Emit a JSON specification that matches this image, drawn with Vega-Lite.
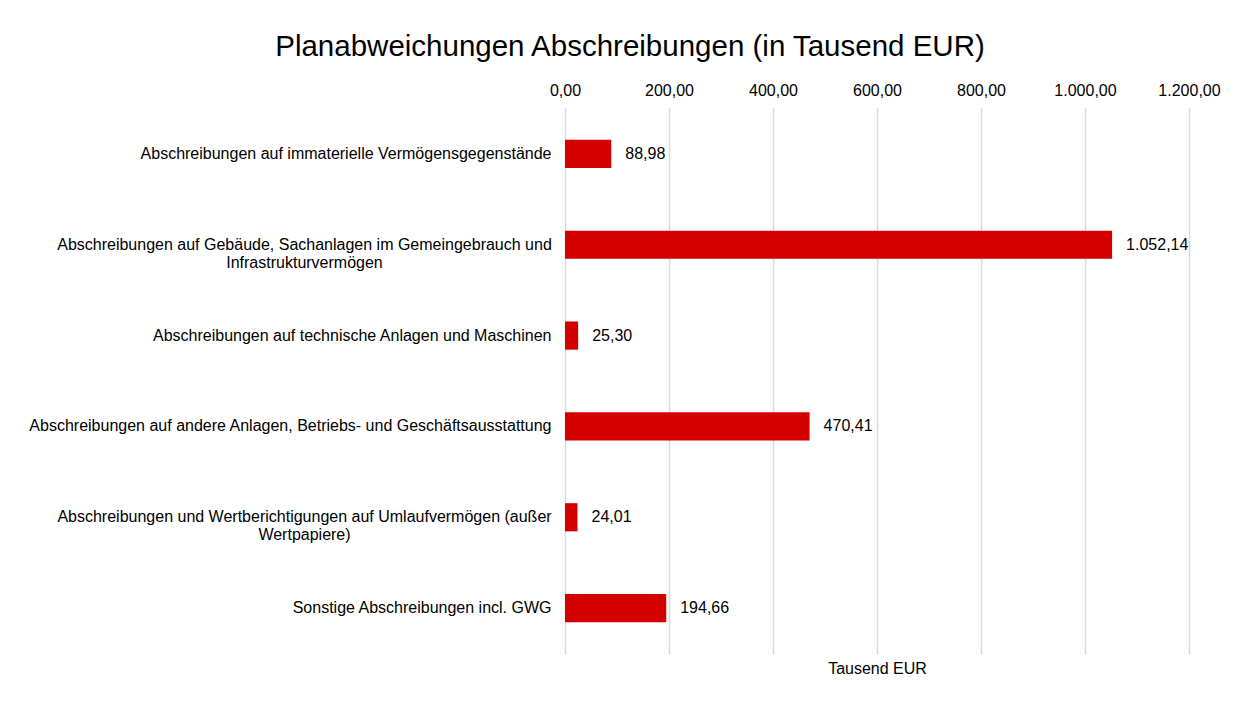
{
  "$schema": "https://vega.github.io/schema/vega-lite/v6.json",
  "autosize": {"type": "none"},
  "padding": {"left": 565, "top": 108, "right": 58, "bottom": 48},
  "width": 624,
  "height": 546,
  "background": "white",
  "title": {
    "text": "Planabweichungen Abschreibungen (in Tausend EUR)",
    "font": "Liberation Sans",
    "fontSize": 29.5,
    "fontWeight": "normal",
    "color": "#000000",
    "frame": "group",
    "anchor": "middle",
    "dx": -247,
    "offset": 20
  },
  "data": {
    "values": [
      {"kategorie": "Abschreibungen auf immaterielle Vermögensgegenstände", "wert": 88.98},
      {"kategorie": "Abschreibungen auf Gebäude, Sachanlagen im Gemeingebrauch und|Infrastrukturvermögen", "wert": 1052.14},
      {"kategorie": "Abschreibungen auf technische Anlagen und Maschinen", "wert": 25.30},
      {"kategorie": "Abschreibungen auf andere Anlagen, Betriebs- und Geschäftsausstattung", "wert": 470.41},
      {"kategorie": "Abschreibungen und Wertberichtigungen auf Umlaufvermögen (außer|Wertpapiere)", "wert": 24.01},
      {"kategorie": "Sonstige Abschreibungen incl. GWG", "wert": 194.66}
    ]
  },
  "encoding": {
    "y": {
      "field": "kategorie",
      "type": "nominal",
      "sort": null,
      "scale": {"paddingInner": 0.69, "paddingOuter": 0.35},
      "axis": {
        "title": null,
        "labelExpr": "split(datum.value, '|')",
        "labelFont": "Liberation Sans",
        "labelFontSize": 16,
        "labelColor": "#000000",
        "labelLineHeight": 18,
        "labelAlign": {"condition": {"test": "indexof(datum.value, '|') >= 0", "value": "center"}, "value": "right"},
        "labelPadding": {"condition": {"test": "indexof(datum.value, '|') >= 0", "value": 261}, "value": 14},
        "labelLimit": 600,
        "ticks": false,
        "domain": false
      }
    }
  },
  "layer": [
    {
      "mark": {"type": "bar", "color": "#d40000"},
      "encoding": {
        "x": {
          "field": "wert",
          "type": "quantitative",
          "scale": {"domain": [0, 1200], "nice": false},
          "axis": {
            "orient": "top",
            "title": null,
            "values": [0, 200, 400, 600, 800, 1000, 1200],
            "format": ",.2f",
            "labelFont": "Liberation Sans",
            "labelFontSize": 16,
            "labelColor": "#000000",
            "labelPadding": 10,
            "labelFlush": false,
            "labelOverlap": false,
            "ticks": false,
            "domain": false,
            "grid": true,
            "gridColor": "#d9d9d9",
            "gridWidth": 1.5
          }
        }
      }
    },
    {
      "mark": {"type": "text", "align": "left", "baseline": "middle", "dx": 14, "font": "Liberation Sans", "fontSize": 16, "color": "#000000"},
      "encoding": {
        "x": {
          "field": "wert",
          "type": "quantitative",
          "axis": {
            "orient": "bottom",
            "title": "Tausend EUR",
            "titleFont": "Liberation Sans",
            "titleFontSize": 16,
            "titleFontWeight": "normal",
            "titleColor": "#000000",
            "titlePadding": 6,
            "labels": false,
            "ticks": false,
            "domain": false,
            "grid": false
          }
        },
        "text": {"field": "wert", "type": "quantitative", "format": ",.2f"}
      }
    }
  ],
  "resolve": {"axis": {"x": "independent"}},
  "config": {
    "locale": {"number": {"decimal": ",", "thousands": ".", "grouping": [3], "currency": ["", " €"]}},
    "view": {"stroke": null}
  }
}
